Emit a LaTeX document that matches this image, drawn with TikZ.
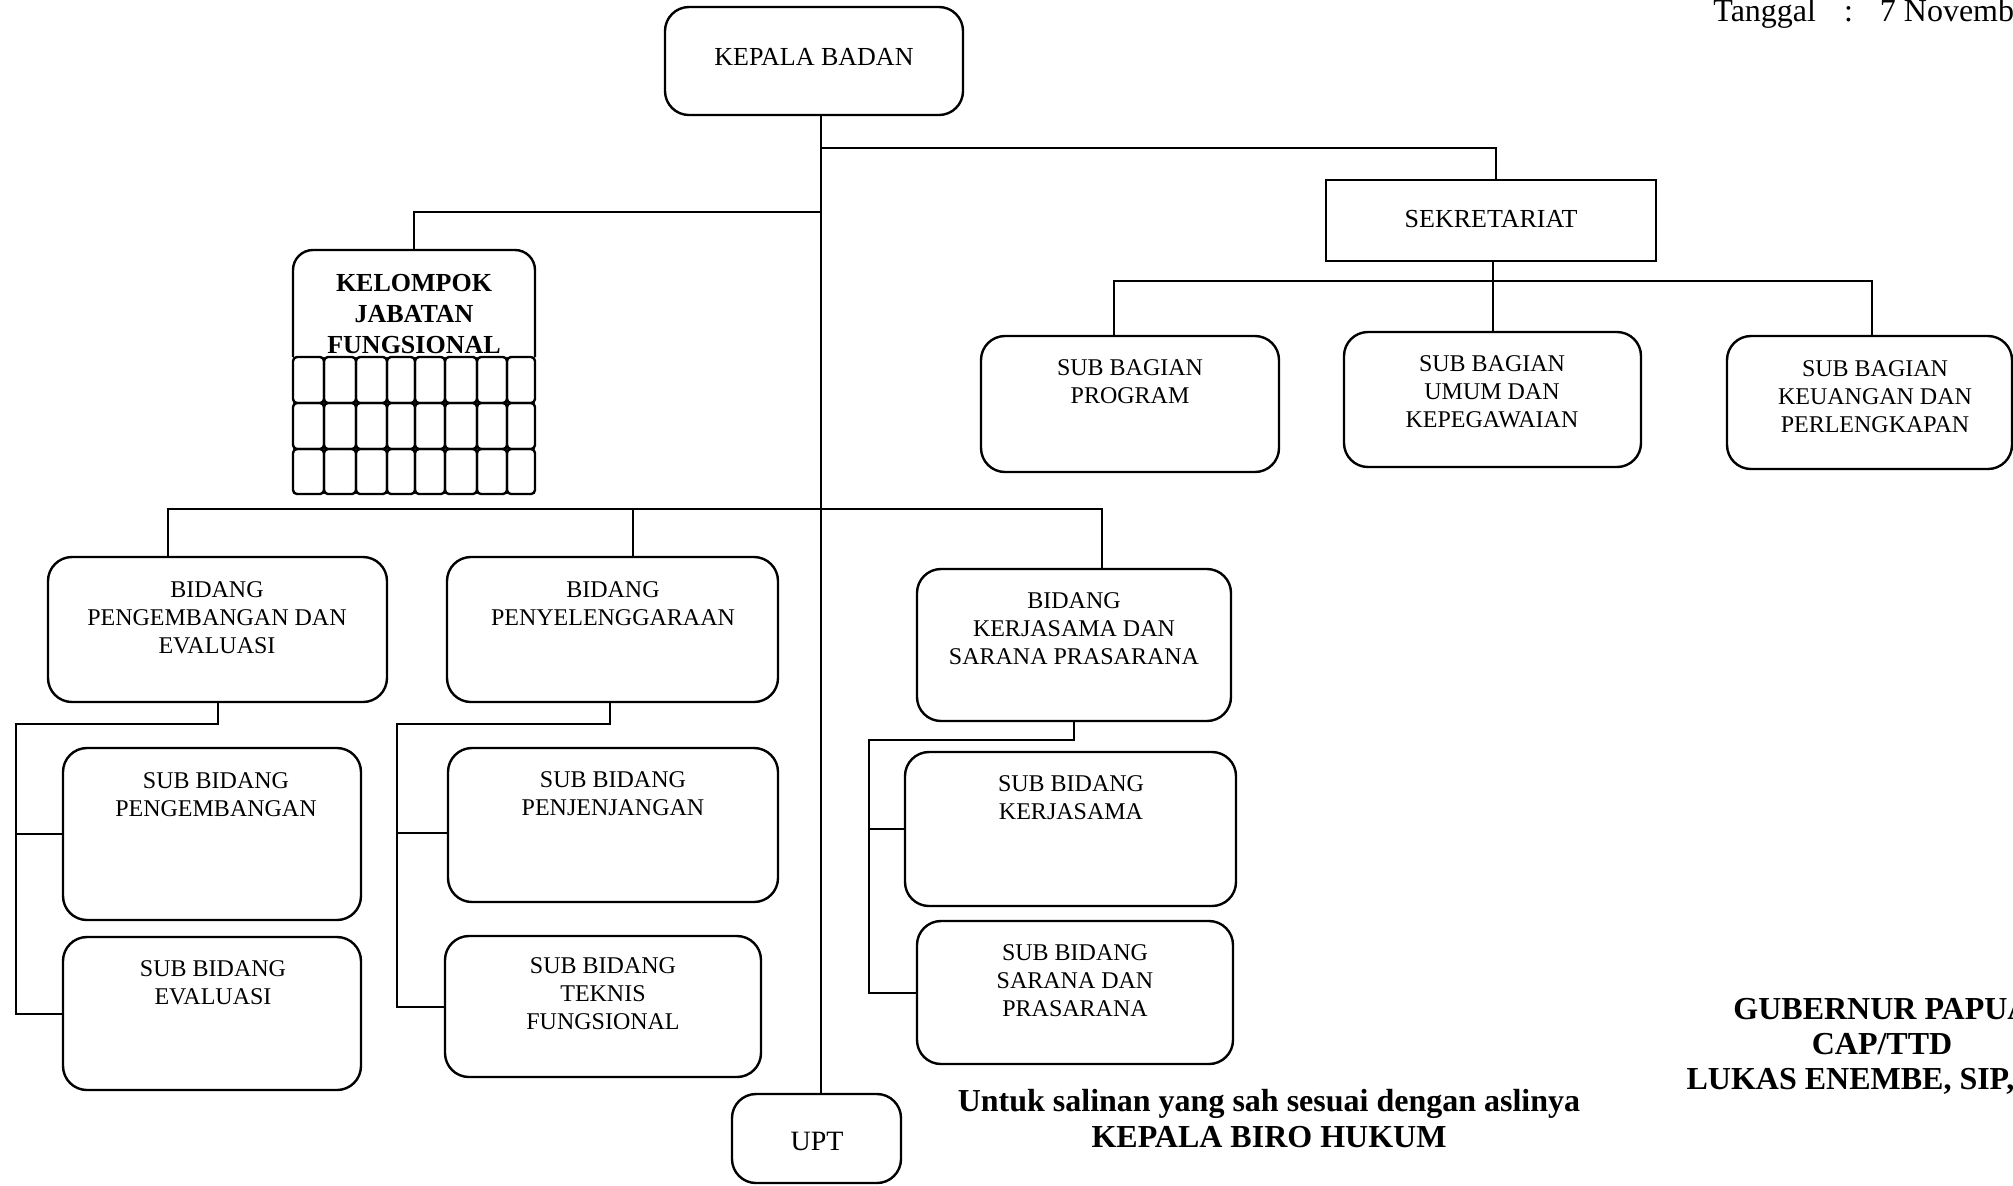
\documentclass[tikz,border=0pt]{standalone}
\usepackage{fontspec}
\setmainfont{Liberation Serif}
\usetikzlibrary{fit,calc}
\begin{document}
\begin{tikzpicture}[x=0.5pt,y=-0.5pt,
  box/.style={draw, rounded corners=12pt, line width=1.2pt, inner sep=0pt},
  sqbox/.style={draw, line width=1.2pt, inner sep=0pt},
  conn/.style={line width=1pt},
  cell/.style={line width=1.2pt, rounded corners=2pt},
  txt/.style={font=\fontsize{12}{14}\selectfont, align=center, inner sep=0pt, anchor=north},
  bigtxt/.style={font=\fontsize{13}{15}\selectfont, inner sep=0pt, anchor=center},
  boldtxt/.style={font=\fontsize{16}{18}\selectfont\bfseries, align=center, inner sep=0pt, anchor=north}]
\useasboundingbox (0,0) rectangle (2013,1185);
\clip (0,0) rectangle (2013,1185);

% boxes
\node[box, fit={(665,7) (963,115)}] (kb) {};
\node[bigtxt] (kbt) at (814,57) {KEPALA BADAN};

\node[sqbox, fit={(1326,180) (1656,261)}] (sek) {};
\node[bigtxt] (sekt) at (1491,219) {SEKRETARIAT};

\node[box, fit={(981,336) (1279,472)}] (prog) {};
\node[txt] (progt) at (1130,359) {SUB BAGIAN\\PROGRAM};

\node[box, fit={(1344,332) (1641,467)}] (umum) {};
\node[txt] (umumt) at (1492,355) {SUB BAGIAN\\UMUM DAN\\KEPEGAWAIAN};

\node[box, fit={(1727,336) (2012,469)}] (keu) {};
\node[txt] (keut) at (1875,360) {SUB BAGIAN\\KEUANGAN DAN\\PERLENGKAPAN};

% kelompok jabatan fungsional
\node[inner sep=0pt, fit={(293,250) (535,494)}] (kjf) {};
\draw[line width=1.2pt, rounded corners=10pt] (293,357) -- (293,250) -- (535,250) -- (535,357);
\foreach \xa/\xb in {293/324,324/356,356/387,387/415,415/445,445/477,477/507,507/535}
  \foreach \ya/\yb in {357/403,403/449,449/494}
    \draw[cell] (\xa,\ya) rectangle (\xb,\yb);
\node[txt, font=\fontsize{13}{15.5}\selectfont\bfseries] (kjft) at (414,273.5) {KELOMPOK\\JABATAN\\FUNGSIONAL};

\node[box, fit={(48,557) (387,702)}] (pe) {};
\node[txt] (pet) at (217,581) {BIDANG\\PENGEMBANGAN DAN\\EVALUASI};

\node[box, fit={(447,557) (778,702)}] (peny) {};
\node[txt] (penyt) at (613,581) {BIDANG\\PENYELENGGARAAN};

\node[box, fit={(917,569) (1231,721)}] (ksp) {};
\node[txt] (kspt) at (1074,592) {BIDANG\\KERJASAMA DAN\\SARANA PRASARANA};

\node[box, fit={(63,748) (361,920)}] (sbp) {};
\node[txt] (sbpt) at (216,772) {SUB BIDANG\\PENGEMBANGAN};

\node[box, fit={(63,937) (361,1090)}] (sbe) {};
\node[txt] (sbet) at (213,960) {SUB BIDANG\\EVALUASI};

\node[box, fit={(448,748) (778,902)}] (sbj) {};
\node[txt] (sbjt) at (613,771) {SUB BIDANG\\PENJENJANGAN};

\node[box, fit={(445,936) (761,1077)}] (sbt) {};
\node[txt] (sbtt) at (603,957) {SUB BIDANG\\TEKNIS\\FUNGSIONAL};

\node[box, fit={(905,752) (1236,906)}] (sbk) {};
\node[txt] (sbkt) at (1071,775) {SUB BIDANG\\KERJASAMA};

\node[box, fit={(917,921) (1233,1064)}] (sbs) {};
\node[txt] (sbst) at (1075,944) {SUB BIDANG\\SARANA DAN\\PRASARANA};

\node[box, fit={(732,1094) (901,1183)}] (upt) {};
\node[inner sep=0pt, font=\fontsize{14}{16}\selectfont] (uptt) at (817,1141) {UPT};

% connectors
\coordinate (tx) at (821,0);
\draw[conn] (kb.south -| tx) -- (upt.north -| tx);
\coordinate (j1) at (821,148);
\draw[conn] (j1) -| ($(sek.north)+(5,0)$);
\coordinate (j2) at (821,212);
\draw[conn] (j2) -| (kjf.north);

\coordinate (sb) at (1493,282);
\draw[conn] ($(sek.south)+(2,0)$) -- (sb);
\draw[conn] ($(prog.north)+(-16,0)$) |- ($(keu.north)+(2,-54)$) -- ($(keu.north)+(2,0)$);
\draw[conn] (umum.north) -- (umum.north |- sb);

\draw[conn] ($(pe.north)+(-50,0)$) |- ($(ksp.north)+(28,-59)$) -- ($(ksp.north)+(28,0)$);
\draw[conn] ($(peny.north)+(20,0)$) -- ($(peny.north)+(20,-47)$);

\coordinate (c1) at (16,724);
\draw[conn] (pe.south) |- (c1) |- (sbe.west);
\draw[conn] (c1 |- sbp.west) -- (sbp.west);

\coordinate (c2) at (397,724);
\draw[conn] ($(peny.south)+(-3,0)$) |- (c2) |- (sbt.west);
\draw[conn] ($(sbj.west)+(-51,8)$) -- ($(sbj.west)+(0,8)$);

\coordinate (c3) at (869,740);
\draw[conn] (ksp.south) |- (c3) |- (sbs.west);
\draw[conn] (c3 |- sbk.west) -- (sbk.west);

% free texts
\node[anchor=base west, inner sep=0pt, font=\fontsize{16}{18}\selectfont] (tgl) at (1713,21) {Tanggal\hspace{14pt}:\hspace{13.5pt}7 November};
\node[boldtxt] (salin) at (1269,1089) {Untuk salinan yang sah sesuai dengan aslinya\\KEPALA BIRO HUKUM};
\node[boldtxt, font=\fontsize{16}{17.5}\selectfont\bfseries] (gub) at (1882,998) {GUBERNUR PAPUA\\CAP/TTD\\LUKAS ENEMBE, SIP, MH};
\end{tikzpicture}
\end{document}
